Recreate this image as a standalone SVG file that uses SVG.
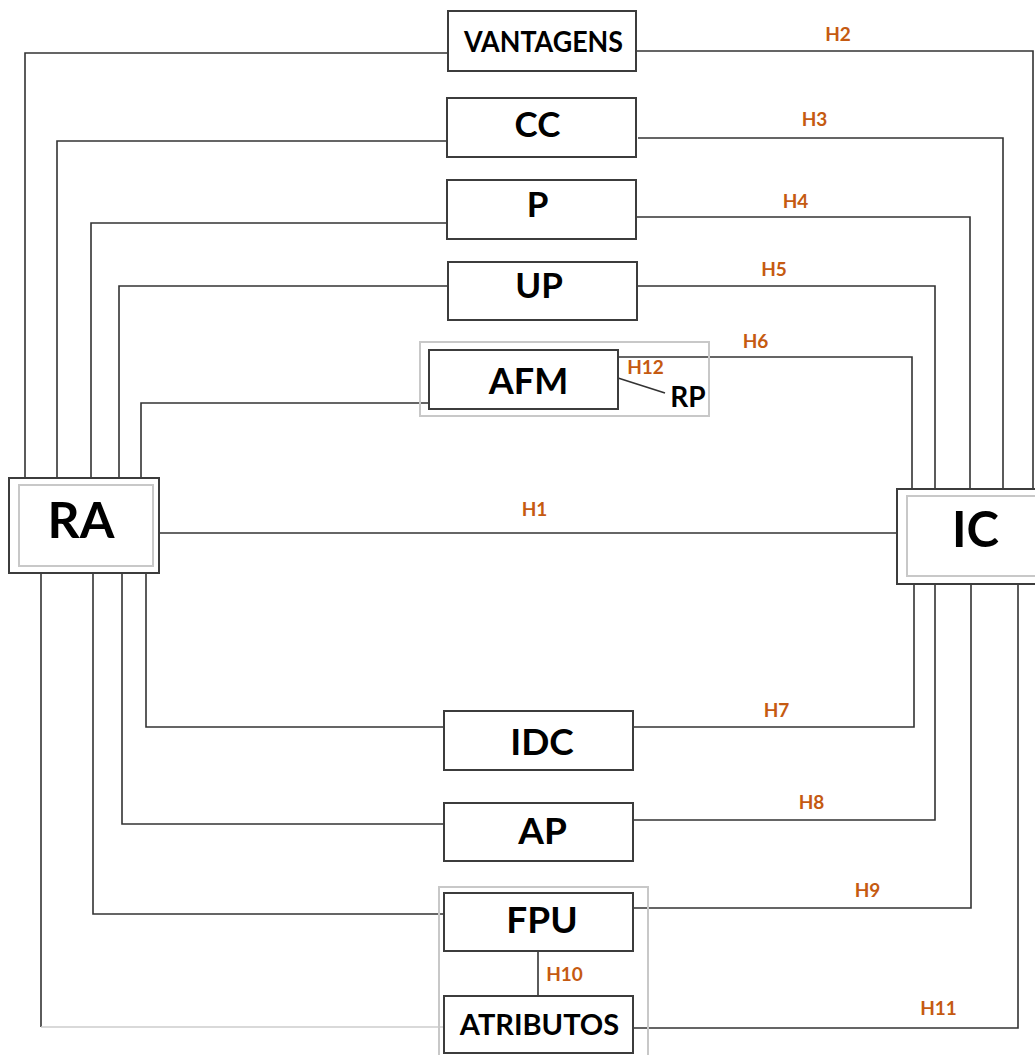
<svg xmlns="http://www.w3.org/2000/svg" width="1035" height="1055" viewBox="0 0 1035 1055">
  <style>
    .box { fill: #ffffff; stroke: #3c3c3c; stroke-width: 2; }
    .frame { fill: none; stroke: #c8c8c8; stroke-width: 2; }
    .wire { fill: none; stroke: #333333; stroke-width: 1.6; }
    .wire-light { fill: none; stroke: #cccccc; stroke-width: 1.6; }
    .name { font-family: Lato, "Liberation Sans", sans-serif; font-weight: bold; fill: #000000; text-anchor: middle; }
    .hyp { font-family: Lato, "Liberation Sans", sans-serif; font-weight: bold; font-size: 19px; fill: #c55a11; text-anchor: middle; }
  </style>
  <rect width="1035" height="1055" fill="#ffffff"/>

  <!-- connectors -->
  <g id="connectors">
    <!-- RA side -->
    <polyline class="wire" points="25,478 25,53 448,53"/>
    <polyline class="wire" points="57,478 57,141 448,141"/>
    <polyline class="wire" points="91,478 91,223 447,223"/>
    <polyline class="wire" points="119,478 119,286 449,286"/>
    <polyline class="wire" points="141,478 141,403 431,403"/>
    <line class="wire" x1="159" y1="533" x2="897" y2="533"/>
    <polyline class="wire" points="146,573 146,727 446,727"/>
    <polyline class="wire" points="122,573 122,824 444,824"/>
    <polyline class="wire" points="93,573 93,914 444,914"/>
    <line class="wire" x1="41" y1="573" x2="41" y2="1027"/>
    <line class="wire-light" x1="41" y1="1027" x2="445" y2="1027"/>
    <!-- IC side -->
    <polyline class="wire" points="636,51 1033,51 1033,489"/>
    <polyline class="wire" points="638,138 1003,138 1003,489"/>
    <polyline class="wire" points="636,217 970,217 970,489"/>
    <polyline class="wire" points="637,286 935,286 935,489"/>
    <polyline class="wire" points="618,357 912,357 912,489"/>
    <polyline class="wire" points="633,727 914,727 914,584"/>
    <polyline class="wire" points="633,820 935,820 935,584"/>
    <polyline class="wire" points="633,908 971,908 971,584"/>
    <polyline class="wire" points="633,1028 1018,1028 1018,584"/>
    <!-- internal links -->
    <line class="wire" x1="618" y1="378" x2="665" y2="393"/>
    <line class="wire" x1="538" y1="951" x2="538" y2="996"/>
  </g>

  <!-- hypothesis labels -->
  <g id="labels">
    <text class="hyp" x="534.5" y="516">H1</text>
    <text class="hyp" x="838" y="40.5">H2</text>
    <text class="hyp" x="814.5" y="126">H3</text>
    <text class="hyp" x="795.5" y="207.5">H4</text>
    <text class="hyp" x="774" y="276">H5</text>
    <text class="hyp" x="755.5" y="348">H6</text>
    <text class="hyp" x="776.5" y="717">H7</text>
    <text class="hyp" x="811.5" y="809">H8</text>
    <text class="hyp" x="867.5" y="897">H9</text>
    <text class="hyp" x="564.5" y="981">H10</text>
    <text class="hyp" x="938.5" y="1015">H11</text>
    <text class="hyp" x="645.5" y="374">H12</text>
  </g>

  <!-- grouping frames -->
  <rect class="frame" x="420" y="342" width="289" height="74"/>
  <rect class="frame" x="439" y="887" width="209" height="175"/>

  <g id="node-vantagens">
    <rect class="box" x="448" y="11" width="188" height="60"/>
    <text class="name" x="543.5" y="52" font-size="28.5" textLength="159" lengthAdjust="spacingAndGlyphs">VANTAGENS</text>
  </g>
  <g id="node-cc">
    <rect class="box" x="447" y="98" width="189" height="59"/>
    <text class="name" x="537.5" y="137" font-size="35">CC</text>
  </g>
  <g id="node-p">
    <rect class="box" x="447" y="180" width="189" height="59"/>
    <text class="name" x="537.5" y="217" font-size="35">P</text>
  </g>
  <g id="node-up">
    <rect class="box" x="448" y="262" width="189" height="58"/>
    <text class="name" x="539" y="298" font-size="35">UP</text>
  </g>
  <g id="node-afm">
    <rect class="box" x="429" y="350" width="189" height="59"/>
    <text class="name" x="528.5" y="394" font-size="36">AFM</text>
  </g>
  <g id="node-rp">
    <text class="name" x="688" y="407" font-size="28">RP</text>
  </g>
  <g id="node-ra">
    <rect class="box" x="9" y="478" width="150" height="95"/>
    <rect class="frame" x="19" y="485" width="134" height="81"/>
    <text class="name" x="81" y="538" font-size="50">RA</text>
  </g>
  <g id="node-ic">
    <rect class="box" x="897" y="489" width="143" height="95"/>
    <rect class="frame" x="907" y="496" width="133" height="80"/>
    <text class="name" x="975.5" y="547" font-size="49">IC</text>
  </g>
  <g id="node-idc">
    <rect class="box" x="444" y="711" width="189" height="59"/>
    <text class="name" x="542" y="755" font-size="37">IDC</text>
  </g>
  <g id="node-ap">
    <rect class="box" x="444" y="803" width="189" height="58"/>
    <text class="name" x="542.5" y="844" font-size="37">AP</text>
  </g>
  <g id="node-fpu">
    <rect class="box" x="444" y="893" width="189" height="58"/>
    <text class="name" x="542" y="933" font-size="37">FPU</text>
  </g>
  <g id="node-atributos">
    <rect class="box" x="444" y="996" width="189" height="57"/>
    <text class="name" x="539.5" y="1035" font-size="29">ATRIBUTOS</text>
  </g>
</svg>
